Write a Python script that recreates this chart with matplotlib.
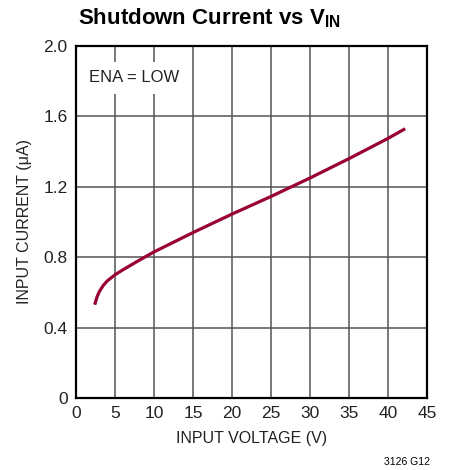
import numpy as np
import matplotlib.pyplot as plt
from matplotlib import font_manager

names = {f.name for f in font_manager.fontManager.ttflist}
narrow = 'Liberation Sans Narrow' if 'Liberation Sans Narrow' in names else 'Liberation Sans'
plt.rcParams['font.family'] = [narrow, 'DejaVu Sans']
plt.rcParams['mathtext.fontset'] = 'custom'
plt.rcParams['mathtext.bf'] = narrow + ':bold'
plt.rcParams['mathtext.rm'] = narrow

# shutdown current
vin = [2.4, 2.7, 3.0, 3.5, 4.0, 5.0, 6.0, 8.0, 10.0, 12.5, 15.0, 20.0, 25.0, 30.0, 35.0, 40.0, 42.2]
iin = [0.53, 0.575, 0.605, 0.64, 0.665, 0.70, 0.728, 0.78, 0.83, 0.885, 0.94, 1.045, 1.145, 1.25, 1.36, 1.475, 1.53]

xticks = [0, 5, 10, 15, 20, 25, 30, 35, 40, 45]
yticks = [0, 0.4, 0.8, 1.2, 1.6, 2.0]
ylabels = ['0', '0.4', '0.8', '1.2', '1.6', '2.0']

fig = plt.figure(figsize=(4.51, 4.70), dpi=100)
ax = fig.add_axes([76 / 451, 72 / 470, 351 / 451, 352 / 470])

ax.plot(vin, iin, color='#990033', lw=2.3, solid_capstyle='butt', zorder=4)

ax.set_xlim(0, 45)
ax.set_ylim(0, 2.0)
ax.set_xticks(xticks)
ax.set_yticks(yticks)
ax.set_yticklabels(ylabels)
ax.tick_params(length=0, labelsize=12.5, pad=6, colors='#222222')
ax.grid(True, color='#555555', lw=1.1)
ax.set_axisbelow(True)
for s in ax.spines.values():
    s.set_linewidth(1.6)
    s.set_color('black')

ax.set_xlabel('INPUT VOLTAGE (V)', fontsize=11.5, color='#222222', labelpad=7)
ax.set_ylabel('INPUT CURRENT (μA)', fontsize=11.5, color='#222222', labelpad=8)

ax.text(0.036, 0.91, 'ENA = LOW', transform=ax.transAxes, fontsize=12,
        color='#222222', va='center', ha='left', zorder=3,
        bbox=dict(facecolor='white', edgecolor='none', pad=6))

fig.text(78 / 451, 1 - 18 / 470, r'Shutdown Current vs V$_{\mathbf{IN}}$',
         fontsize=16, fontweight='bold', va='center', ha='left')
fig.text(430 / 451, 1 - 462 / 470, '3126 G12', fontsize=7.5, ha='right', va='center')

fig.savefig('out.png', dpi=100)
